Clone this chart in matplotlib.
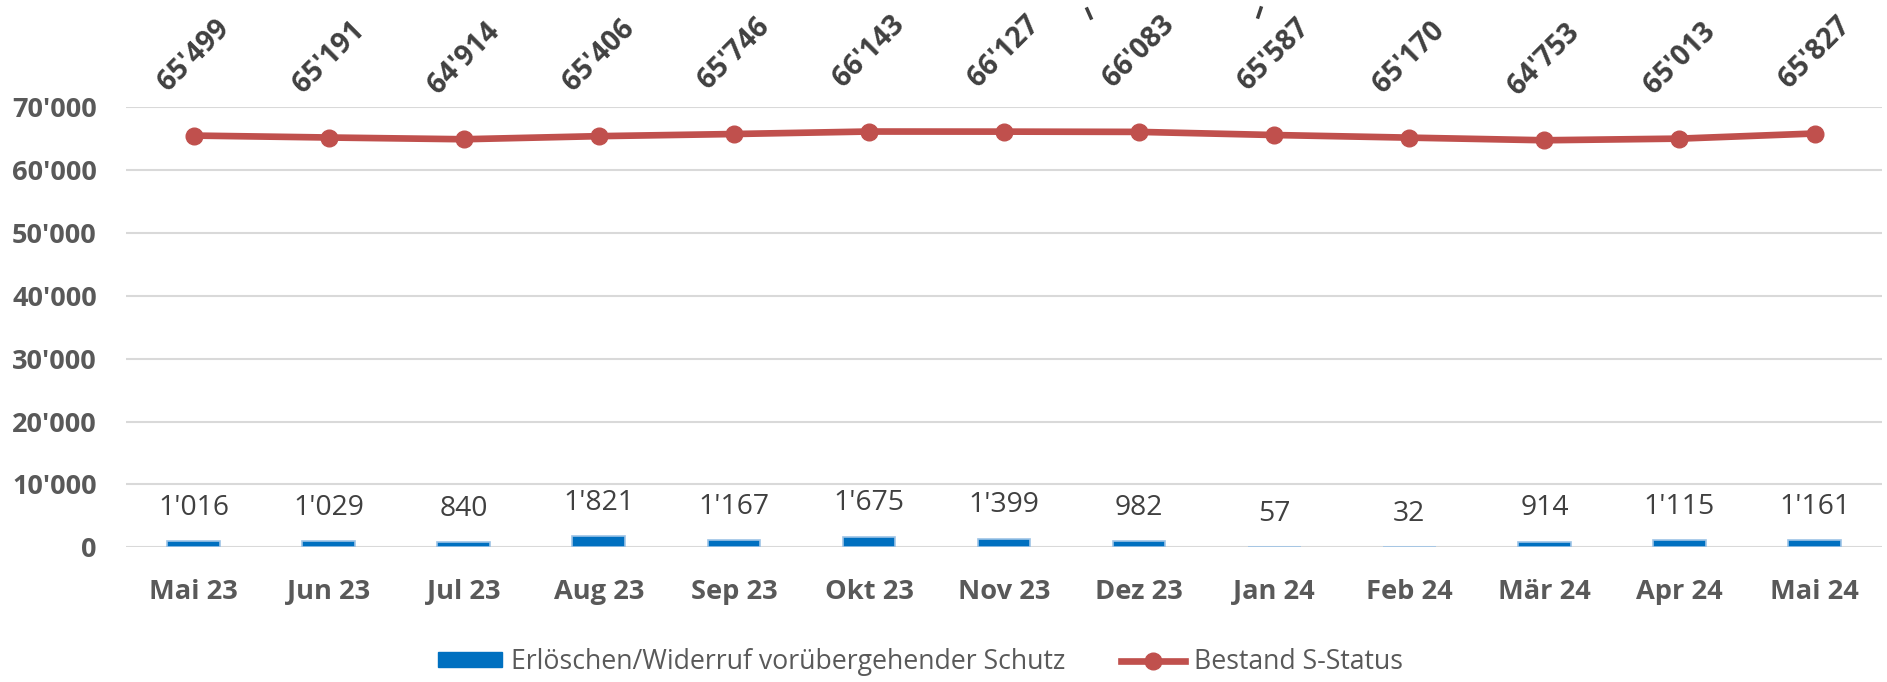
import numpy as np
import matplotlib.pyplot as plt
from matplotlib.patches import Patch
from matplotlib.lines import Line2D
from matplotlib.textpath import TextPath
from matplotlib.font_manager import FontProperties

months = ['Mai 23', 'Jun 23', 'Jul 23', 'Aug 23', 'Sep 23', 'Okt 23', 'Nov 23',
          'Dez 23', 'Jan 24', 'Feb 24', 'Mär 24', 'Apr 24', 'Mai 24']
erloeschen = [1016, 1029, 840, 1821, 1167, 1675, 1399, 982, 57, 32, 914, 1115, 1161]
bestand = [65499, 65191, 64914, 65406, 65746, 66143, 66127, 66083, 65587, 65170, 64753, 65013, 65827]
yticks = [0, 10000, 20000, 30000, 40000, 50000, 60000, 70000]
legend_labels = ['Erlöschen/Widerruf vorübergehender Schutz', 'Bestand S-Status']

blue = '#0070C0'
red = '#C0504D'
grey = '#595959'
dark = '#404040'
fam = ['Open Sans', 'DejaVu Sans']
plt.rcParams['font.family'] = fam


def fmt(v):
    return f"{v:,}".replace(",", "'")


def fit(s, px, weight='normal'):
    # font size (pt) so that the ink width of s is px pixels at 100 dpi
    w = TextPath((0, 0), s, size=10, prop=FontProperties(family=fam, weight=weight)).get_extents().width
    return 10 * px * 0.72 / w


fs_y = fit("70'000", 83, 'bold')
fs_x = fit('Mai 23', 85, 'bold')
fs_bar = fit("1'016", 67)
fs_top = fit("65'499", 86, 'bold')
fs_leg = fit(legend_labels[0], 550)

fig = plt.figure(figsize=(18.87, 6.82), dpi=100)
ax = fig.add_axes([0.0668, 0.1975, 0.9306, 0.6452])

x = np.arange(len(months))
ax.bar(x, erloeschen, width=0.39, color=blue, edgecolor='#9DC3E6', lw=1.2, zorder=2)
ax.plot(x, bestand, '-o', color=red, lw=4.8, ms=12, zorder=3)

for i, v in enumerate(erloeschen):
    ax.annotate(fmt(v), (i, v), xytext=(0, 24), textcoords='offset points',
                ha='center', va='center', fontsize=fs_bar, color=dark)

for i, v in enumerate(bestand):
    ax.annotate(fmt(v), (i, v), xytext=(0, 58), textcoords='offset points',
                ha='center', va='center', rotation=45, rotation_mode='anchor',
                fontsize=fs_top, fontweight='bold', color=dark, annotation_clip=False)

ax.set_xlim(-0.5, len(months) - 0.5)
ax.set_ylim(0, 70000)
ax.set_yticks(yticks)
ax.set_yticklabels([fmt(t) for t in yticks], fontsize=fs_y, fontweight='bold', color=grey)
ax.set_xticks(x)
ax.set_xticklabels(months, fontsize=fs_x, fontweight='bold', color=grey, va='center')
ax.tick_params(length=0)
ax.tick_params(axis='x', pad=32)
ax.tick_params(axis='y', pad=21)
ax.grid(axis='y', color='#D9D9D9', lw=1.5, zorder=0)
ax.set_axisbelow(True)
for s in ax.spines.values():
    s.set_visible(False)

# two small stray strokes at the top of the original
fig.add_artist(Line2D([1087 / 1887, 1091 / 1887], [1 - 9 / 682, 1 - 18 / 682], color=dark, lw=2.5))
fig.add_artist(Line2D([1261 / 1887, 1258 / 1887], [1 - 8 / 682, 1 - 17 / 682], color=dark, lw=2.5))

px = fs_leg / 0.72
handles = [Patch(color=blue), Line2D([], [], color=red, lw=4.8, marker='o', ms=12)]
fig.legend(handles, legend_labels, loc='center', bbox_to_anchor=(0.488, 0.029), ncol=2,
           frameon=False, fontsize=fs_leg, labelcolor=grey, handlelength=64 / px,
           handleheight=13 / px, handletextpad=9 / px, columnspacing=56 / px,
           borderpad=0, borderaxespad=0)

fig.savefig('out.png', dpi=100)
